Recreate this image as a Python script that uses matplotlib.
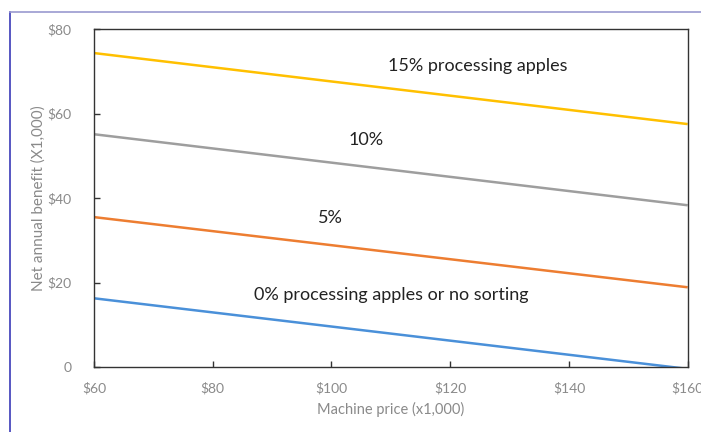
import matplotlib
matplotlib.use("Agg")
import matplotlib.pyplot as plt
from matplotlib.lines import Line2D
from matplotlib.ticker import FuncFormatter

plt.rcParams['font.family'] = ['Lato', 'DejaVu Sans']

# Data
machine_price = [60, 160]
benefit_15 = [74.3, 57.5]
benefit_10 = [55.1, 38.3]
benefit_5 = [35.5, 18.9]
benefit_0 = [16.3, -0.4]

series = [benefit_15, benefit_10, benefit_5, benefit_0]
colors = ['#FFC000', '#9E9E9E', '#ED7D31', '#4A90D9']

labels = ["15% processing apples", "10%", "5%", "0% processing apples or no sorting"]
label_pos = [(124.6, 71.2), (105.8, 53.7), (99.9, 35.3), (110.0, 17.0)]

x_ticks = [60, 80, 100, 120, 140, 160]
y_ticks = [0, 20, 40, 60, 80]

fig = plt.figure(figsize=(7.01, 4.32), dpi=100)
ax = fig.add_axes([0.134, 0.150, 0.847, 0.783])

for vals, c in zip(series, colors):
    ax.plot(machine_price, vals, color=c, lw=1.8, solid_capstyle='butt')

for txt, (tx, ty) in zip(labels, label_pos):
    ax.text(tx, ty, txt, ha='center', va='center', fontsize=13, color='#222222')

ax.set_xlim(60, 160)
ax.set_ylim(0, 80)
ax.set_xticks(x_ticks)
ax.set_yticks(y_ticks)
ax.xaxis.set_major_formatter(FuncFormatter(lambda v, p: f"${int(v)}"))
ax.yaxis.set_major_formatter(FuncFormatter(lambda v, p: "0" if v == 0 else f"${int(v)}"))
ax.tick_params(direction='in', length=4, width=1, colors='#333333', labelcolor='#8a8a8a', labelsize=10)
ax.tick_params(axis='x', pad=11)
ax.tick_params(axis='y', pad=16)
for s in ax.spines.values():
    s.set_color('#333333')
    s.set_linewidth(1.0)

ax.set_xlabel("Machine price (x1,000)", fontsize=10.5, color='#8a8a8a', labelpad=5)
ax.set_ylabel("Net annual benefit (X1,000)", fontsize=11, color='#8a8a8a', labelpad=1)

# figure frame lines
fig.add_artist(Line2D([10/701, 10/701], [0, 1 - 12/432], transform=fig.transFigure, color='#3a3ab8', lw=1.2))
fig.add_artist(Line2D([10/701, 1], [1 - 12/432, 1 - 12/432], transform=fig.transFigure, color='#9a9ad0', lw=1.2))

fig.savefig("out.png", dpi=100)
